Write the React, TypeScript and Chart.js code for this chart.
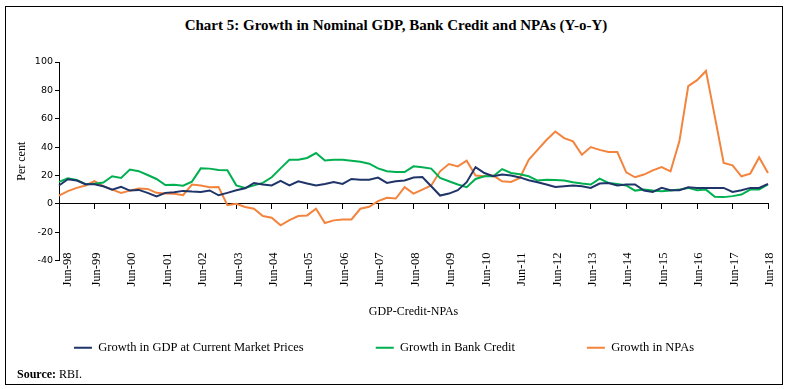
import React, { useEffect, useRef } from 'react';
import { Chart, registerables } from 'chart.js';

Chart.register(...registerables);

const categories: string[] = [
  'Jun-98', 'Sep-98', 'Dec-98', 'Mar-99',
  'Jun-99', 'Sep-99', 'Dec-99', 'Mar-00',
  'Jun-00', 'Sep-00', 'Dec-00', 'Mar-01',
  'Jun-01', 'Sep-01', 'Dec-01', 'Mar-02',
  'Jun-02', 'Sep-02', 'Dec-02', 'Mar-03',
  'Jun-03', 'Sep-03', 'Dec-03', 'Mar-04',
  'Jun-04', 'Sep-04', 'Dec-04', 'Mar-05',
  'Jun-05', 'Sep-05', 'Dec-05', 'Mar-06',
  'Jun-06', 'Sep-06', 'Dec-06', 'Mar-07',
  'Jun-07', 'Sep-07', 'Dec-07', 'Mar-08',
  'Jun-08', 'Sep-08', 'Dec-08', 'Mar-09',
  'Jun-09', 'Sep-09', 'Dec-09', 'Mar-10',
  'Jun-10', 'Sep-10', 'Dec-10', 'Mar-11',
  'Jun-11', 'Sep-11', 'Dec-11', 'Mar-12',
  'Jun-12', 'Sep-12', 'Dec-12', 'Mar-13',
  'Jun-13', 'Sep-13', 'Dec-13', 'Mar-14',
  'Jun-14', 'Sep-14', 'Dec-14', 'Mar-15',
  'Jun-15', 'Sep-15', 'Dec-15', 'Mar-16',
  'Jun-16', 'Sep-16', 'Dec-16', 'Mar-17',
  'Jun-17', 'Sep-17', 'Dec-17', 'Mar-18',
  'Jun-18',
];

const gdpGrowth: number[] = [
  12.9, 17.3, 16.4, 13.8, 13.8, 12.4, 10.0, 11.9, 9.3, 9.8,
  7.7, 5.2, 7.7, 8.2, 9.1, 8.6, 8.4, 9.4, 6.0, 7.7,
  9.5, 10.9, 14.7, 13.6, 12.9, 16.1, 12.9, 15.9, 14.3, 12.9,
  14.0, 15.4, 14.0, 17.5, 17.0, 17.0, 18.5, 14.7, 15.9, 16.4,
  18.5, 18.9, 12.4, 5.8, 7.2, 9.6, 15.2, 25.9, 21.7, 19.4,
  20.6, 19.9, 18.6, 16.6, 15.2, 13.6, 11.9, 12.4, 12.9, 12.4,
  11.2, 14.3, 14.7, 12.9, 13.6, 13.6, 9.3, 8.4, 11.2, 9.6,
  9.6, 11.7, 11.2, 11.2, 11.2, 11.2, 8.4, 9.6, 11.2, 11.2,
  14.0,
];

const creditGrowth: number[] = [
  15.4, 18.0, 16.8, 13.8, 14.2, 15.0, 19.4, 18.2, 24.2, 23.0,
  20.3, 17.5, 13.2, 13.4, 12.7, 15.6, 25.0, 24.8, 23.8, 23.6,
  13.0, 11.2, 13.0, 14.7, 18.7, 25.0, 31.0, 31.0, 32.3, 35.8,
  30.6, 31.0, 31.0, 30.4, 29.7, 28.3, 25.0, 22.9, 22.4, 22.4,
  26.4, 25.7, 24.8, 18.2, 15.9, 13.6, 11.7, 17.5, 19.4, 19.4,
  24.5, 21.7, 20.8, 19.4, 16.4, 17.0, 16.8, 16.4, 15.2, 14.3,
  13.6, 17.8, 14.7, 14.0, 12.9, 9.3, 10.0, 9.3, 8.9, 9.3,
  10.0, 11.2, 9.6, 10.0, 4.9, 4.7, 5.4, 6.5, 10.0, 10.0,
  13.6,
];

const npaGrowth: number[] = [
  5.8, 8.9, 11.2, 12.9, 15.9, 12.4, 10.0, 7.7, 9.3, 10.8,
  10.5, 7.7, 7.2, 7.0, 6.1, 13.6, 12.9, 11.7, 11.9, -1.0,
  0.0, -2.3, -3.5, -8.6, -9.8, -15.2, -11.5, -8.6, -8.2, -3.5,
  -13.6, -11.7, -11.0, -11.0, -3.5, -2.1, 1.9, 4.2, 3.7, 11.7,
  7.2, 10.0, 12.9, 22.9, 28.0, 26.4, 30.4, 19.9, 19.4, 19.9,
  15.9, 15.4, 18.2, 31.0, 38.0, 45.0, 51.0, 46.3, 44.0, 34.6,
  40.0, 38.0, 36.5, 36.5, 22.2, 18.7, 20.6, 23.6, 25.9, 22.9,
  44.0, 83.0, 87.2, 93.7, 61.5, 28.8, 27.1, 19.4, 21.3, 32.7,
  21.7,
];

const seriesNames: string[] = [
  'Growth in GDP at Current Market Prices',
  'Growth in Bank Credit',
  'Growth in NPAs',
];

const yMin = -40;
const yMax = 100;
const yStep = 20;

const titleText = 'Chart 5: Growth in Nominal GDP, Bank Credit and NPAs (Y-o-Y)';
const xAxisTitle = 'GDP-Credit-NPAs';
const yAxisTitle = 'Per cent';

const COLORS = ['#1F3468', '#00B050', '#F3843E'];
const SERIF = "'Liberation Serif', serif";

const isLabelled = (i: number) => !!categories[i] && categories[i].startsWith('Jun');

export default function App() {
  const ref = useRef<HTMLCanvasElement>(null);

  useEffect(() => {
    if (!ref.current) return;
    const chart = new Chart(ref.current, {
      type: 'line',
      data: {
        labels: categories,
        datasets: [gdpGrowth, creditGrowth, npaGrowth].map((d, i) => ({
          label: seriesNames[i],
          data: d,
          borderColor: COLORS[i],
          backgroundColor: COLORS[i],
          borderWidth: 2,
          pointRadius: 0,
          pointHoverRadius: 0,
          tension: 0,
          fill: false,
        })),
      },
      options: {
        responsive: false,
        animation: false,
        layout: { padding: { top: 62, right: 22, bottom: 25, left: 0 } },
        plugins: {
          title: { display: false },
          tooltip: { enabled: false },
          legend: {
            position: 'bottom',
            labels: {
              boxWidth: 18,
              boxHeight: 2,
              padding: 72,
              color: '#000',
              font: { family: SERIF, size: 12.5 },
              generateLabels: (c: any) =>
                (Chart.defaults as any).plugins.legend.labels
                  .generateLabels(c)
                  .map((l: any) => ({ ...l, lineWidth: 0, fillStyle: l.strokeStyle })),
            },
          },
        },
        scales: {
          x: {
            type: 'category',
            axis: 'x',
            position: { y: 0 },
            offset: false,
            ticks: { display: false },
            grid: {
              drawOnChartArea: false,
              drawTicks: true,
              tickLength: 5,
              lineWidth: 1,
              color: (ctx: any) => (isLabelled(ctx.index) ? '#000' : 'rgba(0,0,0,0)'),
            },
            border: { display: true, color: '#000', width: 1 },
          },
          xLabels: {
            type: 'category',
            axis: 'x',
            position: { y: yMin },
            offset: false,
            grid: { display: false },
            border: { display: false },
            ticks: {
              autoSkip: false,
              minRotation: 90,
              maxRotation: 90,
              padding: -16,
              labelOffset: 2,
              color: '#000',
              font: { family: SERIF, size: 12.5, lineHeight: 0.55 },
              callback: (_v: any, i: number) =>
                isLabelled(i) ? (i === 0 ? ['', categories[i]] : categories[i]) : '',
            },
          },
          xTitle: {
            type: 'category',
            axis: 'x',
            position: 'bottom',
            offset: false,
            grid: { display: false },
            border: { display: false },
            ticks: { display: false },
            title: {
              display: true,
              text: xAxisTitle,
              color: '#000',
              font: { family: SERIF, size: 12 },
              padding: { top: 0, bottom: -50 },
            },
            afterFit: (s: any) => {
              s.height = 9;
            },
          },
          y: {
            min: yMin,
            max: yMax,
            ticks: {
              stepSize: yStep,
              padding: 2,
              color: '#000',
              font: { family: "'DejaVu Sans', sans-serif", size: 9.5 },
            },
            grid: { drawOnChartArea: false, tickLength: 4, color: '#000' },
            border: { color: '#000', width: 1 },
            title: {
              display: true,
              text: yAxisTitle,
              color: '#000',
              font: { family: SERIF, size: 12 },
              padding: { top: 15, bottom: 0 },
            },
            afterFit: (s: any) => {
              s.width = 59;
            },
          },
        },
      },
    } as any);
    return () => chart.destroy();
  }, []);

  return (
    <div
      style={{
        position: 'absolute',
        left: 0,
        top: 0,
        width: 790,
        height: 389,
        background: '#fff',
        overflow: 'hidden',
      }}
    >
      <div
        style={{
          position: 'absolute',
          left: 5,
          top: 6,
          width: 778,
          height: 379,
          border: '1.5px solid #000',
          boxSizing: 'border-box',
        }}
      />
      <div
        style={{
          position: 'absolute',
          left: 0,
          top: 16,
          width: 792,
          textAlign: 'center',
          fontFamily: SERIF,
          fontWeight: 'bold',
          fontSize: 15,
          lineHeight: '18px',
          color: '#000',
        }}
      >
        {titleText}
      </div>
      <canvas
        ref={ref}
        width={790}
        height={389}
        style={{ position: 'absolute', left: 0, top: 0, width: 790, height: 389 }}
      />
      <div
        style={{
          position: 'absolute',
          left: 17,
          top: 366,
          fontFamily: SERIF,
          fontSize: 12,
          lineHeight: '16px',
          color: '#000',
        }}
      >
        <b>Source:</b> RBI.
      </div>
    </div>
  );
}
